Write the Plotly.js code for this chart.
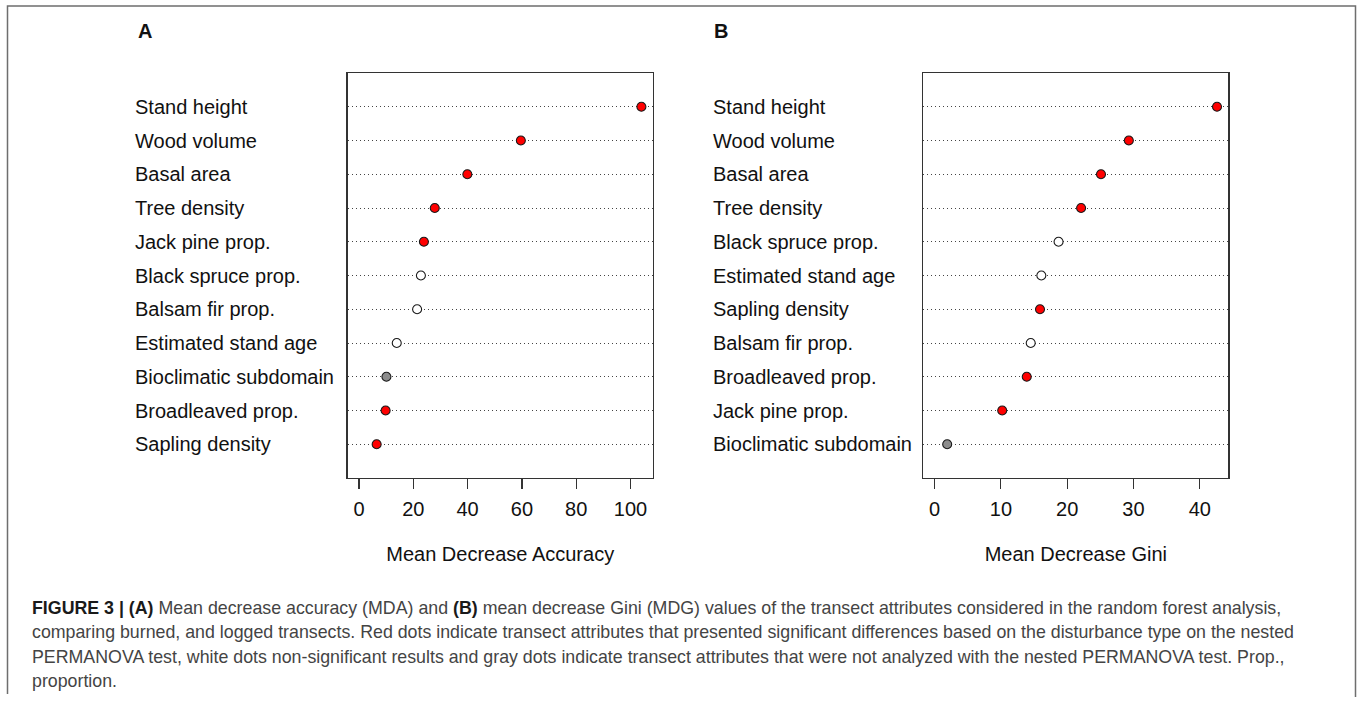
<!DOCTYPE html>
<html>
<head>
<meta charset="utf-8">
<script src="https://cdn.plot.ly/plotly-3.0.1.min.js"></script>
<style>
html,body{margin:0;padding:0;background:#fff;}
#chart{width:1360px;height:702px;}
</style>
</head>
<body>
<div id="chart"></div>
<script>
// ---- Data ----
var categoriesA = ["Stand height","Wood volume","Basal area","Tree density","Jack pine prop.","Black spruce prop.","Balsam fir prop.","Estimated stand age","Bioclimatic subdomain","Broadleaved prop.","Sapling density"];
var valuesA = [104.0, 59.6, 39.9, 27.9, 23.9, 22.8, 21.4, 13.9, 10.1, 9.8, 6.5];
var statusA = ["sig","sig","sig","sig","sig","ns","ns","ns","na","sig","sig"];

var categoriesB = ["Stand height","Wood volume","Basal area","Tree density","Black spruce prop.","Estimated stand age","Sapling density","Balsam fir prop.","Broadleaved prop.","Jack pine prop.","Bioclimatic subdomain"];
var valuesB = [42.6, 29.3, 25.1, 22.1, 18.7, 16.1, 15.9, 14.5, 13.9, 10.2, 1.9];
var statusB = ["sig","sig","sig","sig","ns","ns","sig","ns","sig","sig","na"];

var ticksA = [0, 20, 40, 60, 80, 100];
var ticksB = [0, 10, 20, 30, 40];
var axisTitleA = "Mean Decrease Accuracy";
var axisTitleB = "Mean Decrease Gini";
var panelLetters = ["A", "B"];
var captionLines = [
  "<b><span style='color:#1a1a1a'>FIGURE 3 | (A)</span></b> Mean decrease accuracy (MDA) and <b><span style='color:#1a1a1a'>(B)</span></b> mean decrease Gini (MDG) values of the transect attributes considered in the random forest analysis,",
  "comparing burned, and logged transects. Red dots indicate transect attributes that presented significant differences based on the disturbance type on the nested",
  "PERMANOVA test, white dots non-significant results and gray dots indicate transect attributes that were not analyzed with the nested PERMANOVA test. Prop.,",
  "proportion."
];

// ---- Styling ----
var W = 1360, H = 702;
var M = {l: 0, r: 0, t: 73, b: 224};
var plotBottom = H - M.b, plotH = H - M.t - M.b;
function px(X){ return X / W; }
function py(Y){ return (plotBottom - Y) / plotH; }
var statusColor = {sig: "#ff0000", ns: "#ffffff", na: "#8c8c8c"};
var FONT = "Liberation Sans, Arial, Helvetica, sans-serif";

function rRange(vals){
  var mx = Math.max.apply(null, vals), mn = Math.min(0, Math.min.apply(null, vals));
  var d = mx - mn;
  return [mn - 0.04 * d, mx + 0.04 * d];
}

function dotTrace(cats, vals, status, xa, ya){
  return {
    type: "scatter", mode: "markers",
    x: vals, y: cats, xaxis: xa, yaxis: ya,
    marker: {size: 9, color: status.map(function(s){ return statusColor[s]; }),
             line: {color: "#1a1a1a", width: 1.1}},
    hoverinfo: "x+y", showlegend: false
  };
}

var data = [
  dotTrace(categoriesA, valuesA, statusA, "x", "y"),
  dotTrace(categoriesB, valuesB, statusB, "x2", "y2")
];

function xAxis(domain, range, ticks, title){
  return {
    domain: domain, range: range, tickmode: "array", tickvals: ticks,
    ticks: "outside", ticklen: 10, tickwidth: 1.2, tickcolor: "#333",
    ticklabelstandoff: 3,
    showline: true, mirror: true, linecolor: "#333", linewidth: 1.3,
    showgrid: false, zeroline: false, fixedrange: true,
    tickfont: {family: FONT, size: 20, color: "#111"},
    title: {text: title, font: {family: FONT, size: 20, color: "#111"}, standoff: 27},
    automargin: false
  };
}
function yAxis(cats, anchor){
  return {
    domain: [0, 1], type: "category", categoryorder: "array", categoryarray: cats,
    range: [cats.length, -1], anchor: anchor,
    showticklabels: false, ticks: "",
    showline: true, mirror: true, linecolor: "#333", linewidth: 1.3,
    showgrid: true, gridcolor: "#444", gridwidth: 1, griddash: "1px,3px",
    zeroline: false, fixedrange: true, automargin: false
  };
}

var annotations = [];
categoriesA.forEach(function(c){
  annotations.push({xref: "paper", yref: "y", x: px(133), y: c, text: c, showarrow: false,
    xanchor: "left", yanchor: "middle", font: {family: FONT, size: 20, color: "#111"}});
});
categoriesB.forEach(function(c){
  annotations.push({xref: "paper", yref: "y2", x: px(711), y: c, text: c, showarrow: false,
    xanchor: "left", yanchor: "middle", font: {family: FONT, size: 20, color: "#111"}});
});
[[panelLetters[0], 136], [panelLetters[1], 712]].forEach(function(p){
  annotations.push({xref: "paper", yref: "paper", x: px(p[1]), y: py(31), text: "<b>" + p[0] + "</b>",
    showarrow: false, xanchor: "left", yanchor: "middle", font: {family: FONT, size: 20, color: "#111"}});
});
var capY = [608, 632, 657, 681];
captionLines.forEach(function(t, i){
  annotations.push({xref: "paper", yref: "paper", x: px(30), y: py(capY[i]), text: t,
    showarrow: false, xanchor: "left", yanchor: "middle", align: "left",
    font: {family: FONT, size: 17.8, color: "#444"}});
});

var layout = {
  width: W, height: H, margin: M,
  paper_bgcolor: "#fff", plot_bgcolor: "#fff",
  xaxis: xAxis([px(347.7), px(652.7)], rRange(valuesA), ticksA, axisTitleA),
  yaxis: yAxis(categoriesA, "x"),
  xaxis2: xAxis([px(923.3), px(1228.3)], rRange(valuesB), ticksB, axisTitleB),
  yaxis2: yAxis(categoriesB, "x2"),
  annotations: annotations,
  shapes: [{
    type: "path", xref: "paper", yref: "paper", layer: "above",
    path: "M " + px(7.5) + " " + py(694) + " L " + px(7.5) + " " + py(6) +
          " L " + px(1355.5) + " " + py(6) + " L " + px(1355.5) + " " + py(697),
    line: {color: "#6e6e6e", width: 1.5}
  }],
  showlegend: false
};

Plotly.newPlot("chart", data, layout, {displayModeBar: false, staticPlot: true});
</script>
</body>
</html>
